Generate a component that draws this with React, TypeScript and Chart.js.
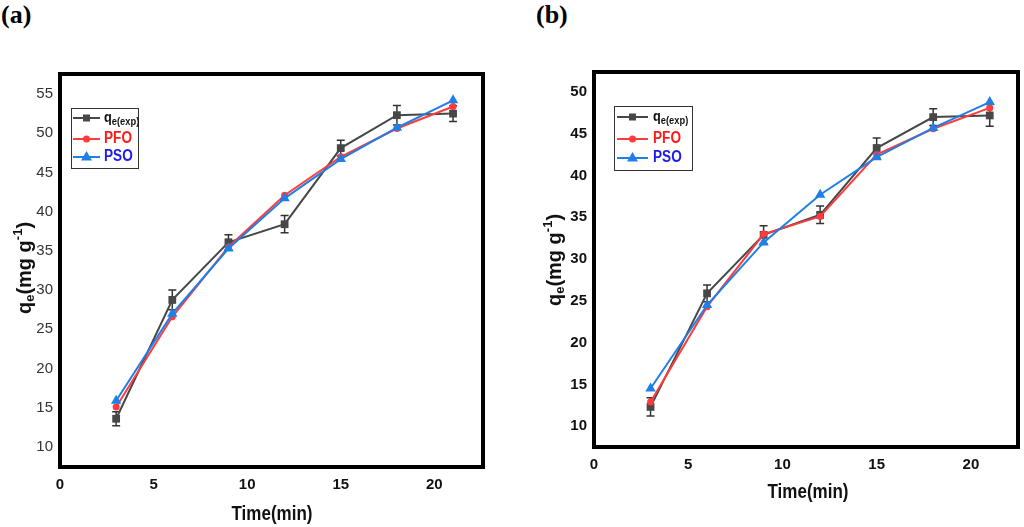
import { useEffect, useRef } from 'react';
import { Chart, registerables } from 'chart.js';

Chart.register(...registerables);

// time axis (min)
const timeMin = [3, 6, 9, 12, 15, 18, 21];
const xTicks = [0, 5, 10, 15, 20];

// panel (a)
const qeExpA = [13.6, 28.75, 36.1, 38.4, 48.1, 52.3, 52.5];
const errA = [0.9, 1.25, 0.95, 1.1, 1.0, 1.25, 1.0];
const pfoA = [15.1, 26.6, 35.5, 42.1, 47.0, 50.6, 53.4];
const psoA = [15.9, 27.0, 35.3, 41.7, 46.7, 50.7, 54.2];
const yTicksA = [10, 15, 20, 25, 30, 35, 40, 45, 50, 55];

// panel (b)
const qeExpB = [12.3, 25.9, 32.9, 35.3, 43.3, 47.0, 47.2];
const errB = [1.1, 1.0, 1.1, 1.05, 1.2, 1.0, 1.3];
const pfoB = [12.9, 24.3, 33.0, 35.1, 42.5, 45.6, 48.1];
const psoB = [14.5, 24.5, 32.0, 37.7, 42.2, 45.7, 48.8];
const yTicksB = [10, 15, 20, 25, 30, 35, 40, 45, 50];

const EXP_COLOR = '#474747';
const PFO_COLOR = '#ff3b3b';
const PSO_COLOR = '#1f7fe6';

type Part = { t: string; size: number; dy: number };

// draws text made of pieces (for sub/superscripts), centred on x
const drawRich = (ctx: CanvasRenderingContext2D, parts: Part[], x: number, y: number, align: 'center' | 'left') => {
  let w = 0;
  parts.forEach(p => {
    ctx.font = `bold ${p.size}px Arial, "Liberation Sans", sans-serif`;
    w += ctx.measureText(p.t).width;
  });
  let cx = align === 'center' ? x - w / 2 : x;
  parts.forEach(p => {
    ctx.font = `bold ${p.size}px Arial, "Liberation Sans", sans-serif`;
    ctx.fillText(p.t, cx, y + p.dy);
    cx += ctx.measureText(p.t).width;
  });
};

const drawMarker = (ctx: CanvasRenderingContext2D, kind: string, x: number, y: number, color: string) => {
  ctx.fillStyle = color;
  ctx.beginPath();
  if (kind === 'rect') {
    ctx.rect(x - 3.5, y - 3.5, 7, 7);
  } else if (kind === 'circle') {
    ctx.arc(x, y, 3.5, 0, Math.PI * 2);
  } else {
    ctx.moveTo(x, y - 6);
    ctx.lineTo(x + 5.5, y + 3.5);
    ctx.lineTo(x - 5.5, y + 3.5);
    ctx.closePath();
  }
  ctx.fill();
};

const decoPlugin = {
  id: 'deco',
  beforeDatasetsDraw(chart: any, _args: any, opts: any) {
    // error bars of the experimental series
    const { ctx } = chart;
    const xs = chart.scales.x;
    const ys = chart.scales.y;
    ctx.save();
    ctx.strokeStyle = '#333';
    ctx.lineWidth = 1.5;
    opts.errs.forEach((e: number, i: number) => {
      const px = xs.getPixelForValue(timeMin[i]);
      const top = ys.getPixelForValue(opts.exp[i] + e);
      const bot = ys.getPixelForValue(opts.exp[i] - e);
      ctx.beginPath();
      ctx.moveTo(px, top);
      ctx.lineTo(px, bot);
      ctx.moveTo(px - 4, top);
      ctx.lineTo(px + 4, top);
      ctx.moveTo(px - 4, bot);
      ctx.lineTo(px + 4, bot);
      ctx.stroke();
    });
    ctx.restore();
  },
  afterDraw(chart: any, _args: any, opts: any) {
    const { ctx, chartArea } = chart;
    ctx.save();
    // frame
    ctx.strokeStyle = '#000';
    ctx.lineWidth = 4;
    ctx.strokeRect(chartArea.left, chartArea.top, chartArea.right - chartArea.left, chartArea.bottom - chartArea.top);

    // x title
    ctx.fillStyle = '#111';
    ctx.textBaseline = 'middle';
    ctx.save();
    ctx.translate(opts.xTitle[0], opts.xTitle[1]);
    ctx.scale(0.85, 1);
    ctx.textAlign = 'left';
    drawRich(ctx, [{ t: 'Time(min)', size: 20, dy: 0 }], 0, 0, 'center');
    ctx.restore();

    // y title
    ctx.save();
    ctx.translate(opts.yTitle[0], opts.yTitle[1]);
    ctx.rotate(-Math.PI / 2);
    ctx.textAlign = 'left';
    drawRich(ctx, [
      { t: 'q', size: 20, dy: 0 },
      { t: 'e', size: 13, dy: 5 },
      { t: '(mg g', size: 20, dy: 0 },
      { t: '-1', size: 13, dy: -7 },
      { t: ')', size: 20, dy: 0 },
    ], 0, 0, 'center');
    ctx.restore();

    // legend
    const lg = opts.legend;
    ctx.strokeStyle = '#333';
    ctx.lineWidth = 1;
    ctx.strokeRect(lg.box[0] + 0.5, lg.box[1] + 0.5, lg.box[2], lg.box[3]);
    const rows = [
      { color: EXP_COLOR, kind: 'rect', text: '#111', parts: [{ t: 'q', size: 15, dy: 0 }, { t: 'e(exp)', size: 11, dy: 4 }] },
      { color: PFO_COLOR, kind: 'circle', text: '#ff1a1a', parts: [{ t: 'PFO', size: 16, dy: 0 }] },
      { color: PSO_COLOR, kind: 'tri', text: '#1c1cf0', parts: [{ t: 'PSO', size: 16, dy: 0 }] },
    ];
    rows.forEach((r, i) => {
      const y = lg.rows[i];
      ctx.strokeStyle = r.color;
      ctx.lineWidth = 2;
      ctx.beginPath();
      ctx.moveTo(lg.line[0], y);
      ctx.lineTo(lg.line[1], y);
      ctx.stroke();
      drawMarker(ctx, r.kind, (lg.line[0] + lg.line[1]) / 2, y, r.color);
      ctx.fillStyle = r.text;
      ctx.save();
      ctx.translate(lg.textX, y);
      ctx.scale(0.85, 1);
      drawRich(ctx, r.parts, 0, 0, 'left');
      ctx.restore();
    });
    ctx.restore();
  },
};

interface PanelProps {
  exp: number[];
  errs: number[];
  pfo: number[];
  pso: number[];
  yTicks: number[];
  yMin: number;
  yMax: number;
  xMax: number;
  pad: { top: number; right: number };
  yWidth: number;
  xHeight: number;
  boldY: boolean;
  xTitle: number[];
  yTitle: number[];
  legend: { box: number[]; rows: number[]; line: number[]; textX: number };
  style: React.CSSProperties;
}

const Panel: React.FC<PanelProps> = (p) => {
  const canvasRef = useRef<HTMLCanvasElement>(null);

  useEffect(() => {
    if (!canvasRef.current) return;
    const pts = (vals: number[]) => vals.map((v, i) => ({ x: timeMin[i], y: v }));
    const chart = new Chart(canvasRef.current, {
      type: 'line',
      data: {
        datasets: [
          {
            label: 'qe(exp)',
            data: pts(p.exp),
            borderColor: EXP_COLOR,
            backgroundColor: EXP_COLOR,
            borderWidth: 2,
            pointStyle: 'rect',
            pointRadius: 5.5,
            pointBorderWidth: 0,
            order: 3,
          },
          {
            label: 'PFO',
            data: pts(p.pfo),
            borderColor: PFO_COLOR,
            backgroundColor: PFO_COLOR,
            borderWidth: 2,
            pointStyle: 'circle',
            pointRadius: 3.5,
            pointBorderWidth: 0,
            order: 2,
          },
          {
            label: 'PSO',
            data: pts(p.pso),
            borderColor: PSO_COLOR,
            backgroundColor: PSO_COLOR,
            borderWidth: 2,
            pointStyle: 'triangle',
            pointRadius: 6,
            pointBorderWidth: 0,
            order: 1,
          },
        ],
      },
      options: {
        responsive: true,
        maintainAspectRatio: false,
        animation: false,
        layout: { padding: { top: p.pad.top, right: p.pad.right, left: 0, bottom: 0 } },
        plugins: {
          legend: { display: false },
          tooltip: { enabled: false },
          deco: { exp: p.exp, errs: p.errs, xTitle: p.xTitle, yTitle: p.yTitle, legend: p.legend },
        } as any,
        scales: {
          x: {
            type: 'linear',
            min: 0,
            max: p.xMax,
            grid: { display: false, drawTicks: false },
            border: { display: false },
            afterBuildTicks: (axis: any) => {
              axis.ticks = xTicks.map(v => ({ value: v }));
            },
            afterFit: (axis: any) => {
              axis.height = p.xHeight;
            },
            ticks: {
              padding: 9,
              color: '#111',
              font: { size: 15, weight: 'bold' },
              maxRotation: 0,
            },
          },
          y: {
            min: p.yMin,
            max: p.yMax,
            grid: { display: false, drawTicks: false },
            border: { display: false },
            afterBuildTicks: (axis: any) => {
              axis.ticks = p.yTicks.map(v => ({ value: v }));
            },
            afterFit: (axis: any) => {
              axis.width = p.yWidth;
            },
            ticks: {
              padding: 7,
              color: p.boldY ? '#111' : '#333',
              font: { size: 15, weight: p.boldY ? 'bold' : 'normal' },
            },
          },
        },
      },
      plugins: [decoPlugin],
    });
    return () => chart.destroy();
  }, []);

  return (
    <div style={{ position: 'absolute', ...p.style }}>
      <canvas ref={canvasRef} />
    </div>
  );
};

Chart.defaults.font.family = 'Arial, "Liberation Sans", sans-serif';

const labelStyle: React.CSSProperties = {
  position: 'absolute',
  top: 0,
  fontFamily: '"Times New Roman", "Liberation Serif", serif',
  fontWeight: 'bold',
  fontSize: 26,
  lineHeight: '30px',
  color: '#000',
};

export default function App() {
  return (
    <div style={{ position: 'fixed', left: 0, top: 0, width: 1024, height: 527, background: '#fff', overflow: 'hidden' }}>
      <div style={{ ...labelStyle, left: 1 }}>(a)</div>
      <div style={{ ...labelStyle, left: 536 }}>(b)</div>
      <Panel
        exp={qeExpA}
        errs={errA}
        pfo={pfoA}
        pso={psoA}
        yTicks={yTicksA}
        yMin={7.45}
        yMax={57.55}
        xMax={22.6}
        pad={{ top: 74, right: 27 }}
        yWidth={60}
        xHeight={60}
        boldY={false}
        xTitle={[272, 514]}
        yTitle={[25, 268]}
        legend={{ box: [71, 108, 67, 60], rows: [118, 139, 157], line: [73, 100], textX: 104 }}
        style={{ left: 0, top: 0, width: 510, height: 527 }}
      />
      <Panel
        exp={qeExpB}
        errs={errB}
        pfo={pfoB}
        pso={psoB}
        yTicks={yTicksB}
        yMin={7.5}
        yMax={52.4}
        xMax={22.5}
        pad={{ top: 72, right: 2 }}
        yWidth={74}
        xHeight={80}
        boldY={true}
        xTitle={[288, 492]}
        yTitle={[35, 260]}
        legend={{ box: [94, 106, 78, 64], rows: [117, 139, 158], line: [97, 128], textX: 133 }}
        style={{ left: 520, top: 0, width: 504, height: 527 }}
      />
    </div>
  );
}
